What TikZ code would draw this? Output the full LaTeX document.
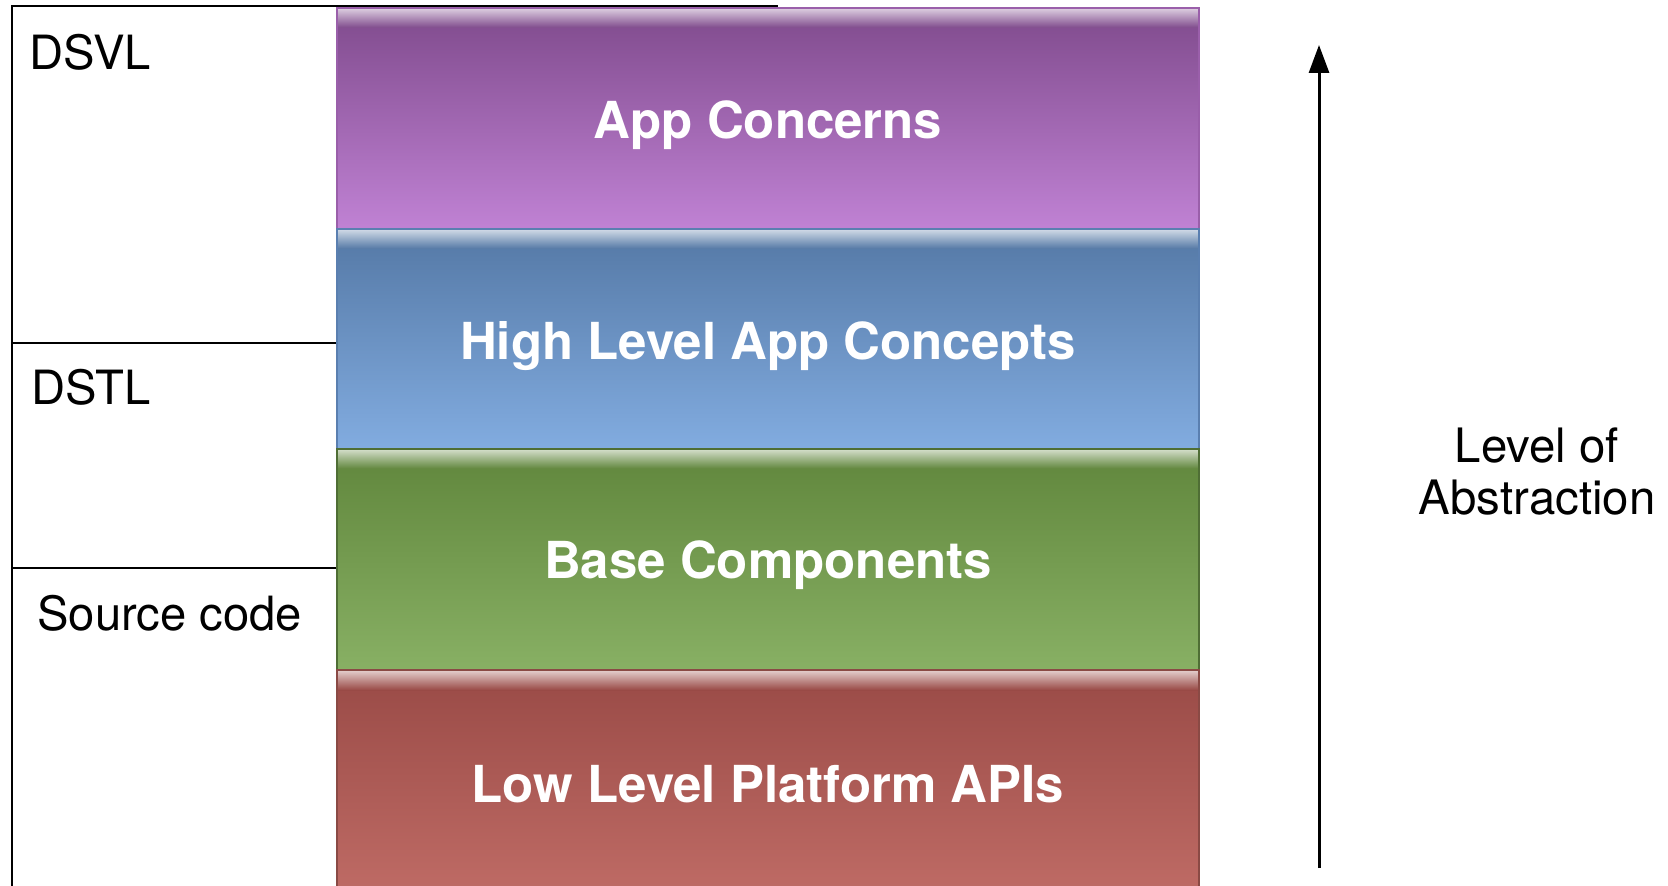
\documentclass[tikz,border=0pt]{standalone}
\usepackage{fontspec}
\setmainfont{TeX Gyre Heros}
\usetikzlibrary{arrows.meta}
\definecolor{pTop}{HTML}{7F4A8C}\definecolor{pBot}{HTML}{C082D4}\definecolor{pLine}{HTML}{9A5FAA}
\definecolor{bTop}{HTML}{5478A5}\definecolor{bBot}{HTML}{82ACE0}\definecolor{bLine}{HTML}{5A7FB0}
\definecolor{gTop}{HTML}{60863C}\definecolor{gBot}{HTML}{88B064}\definecolor{gLine}{HTML}{4F6E35}
\definecolor{rTop}{HTML}{994A46}\definecolor{rBot}{HTML}{C06C66}\definecolor{rLine}{HTML}{8A4A45}
\tikzset{
  boxline/.style={line width=1.2pt, draw=black},
  sidelabel/.style={anchor=base west, inner sep=0pt, font=\fontsize{23.6}{28}\selectfont, text=black},
  bandlabel/.style={inner sep=0pt, font=\fontsize{25.5}{30}\selectfont\bfseries, text=white},
  axislabel/.style={align=center, inner sep=0pt, font=\fontsize{23.7}{26}\selectfont, text=black},
}
\newcommand{\myband}[6]{% name, ytop, ybot, topcol, botcol, linecol
  \shade[top color=#4, bottom color=#5] (337,#2) rectangle (1199,#3);
  \shade[top color=#4!30!white, bottom color=#4] (338,#2+1) rectangle (1198,#2+20);
  \draw[#6, line width=0.8pt] (337,#2) rectangle (1199,#3);
}
\begin{document}
\begin{tikzpicture}[x=0.5pt,y=-0.5pt]
\useasboundingbox (0,0) rectangle (1668,886);
% left box
\coordinate (tl) at (12,6);
\coordinate (tr) at (778,6);
\coordinate (bl) at (12,890);
\coordinate (d1l) at (12,343);
\coordinate (d1r) at (337,343);
\coordinate (d2l) at (12,568);
\coordinate (d2r) at (337,568);
\draw[boxline] (bl) -- (tl) -- (tr);
\draw[boxline] (d1l) -- (d1r);
\draw[boxline] (d2l) -- (d2r);
% bands
\myband{app}{8}{229}{pTop}{pBot}{pLine}
\myband{high}{229}{449}{bTop}{bBot}{bLine}
\myband{base}{449}{670}{gTop}{gBot}{gLine}
\myband{low}{670}{900}{rTop}{rBot}{rLine}
\node[bandlabel] (app) at (768,125) {App Concerns};
\node[bandlabel] (high) at (768,346) {High Level App Concepts};
\node[bandlabel] (base) at (768,565) {Base Components};
\node[bandlabel] (low) at (768,784) {Low Level Platform APIs};
% side labels
\node[sidelabel] (dsvl) at (29,70) {DSVL};
\node[sidelabel] (dstl) at (31,405) {DSTL};
\node[sidelabel] (src) at (37,630) {Source code};
% arrow
\coordinate (abot) at (1319,868);
\coordinate (atop) at (1319,45);
\draw[line width=1.5pt, -{Triangle[length=14pt,width=10pt]}] (abot) -- (atop);
\node[axislabel] (loa) at (1537,472) {Level of\\Abstraction};
\end{tikzpicture}
\end{document}
